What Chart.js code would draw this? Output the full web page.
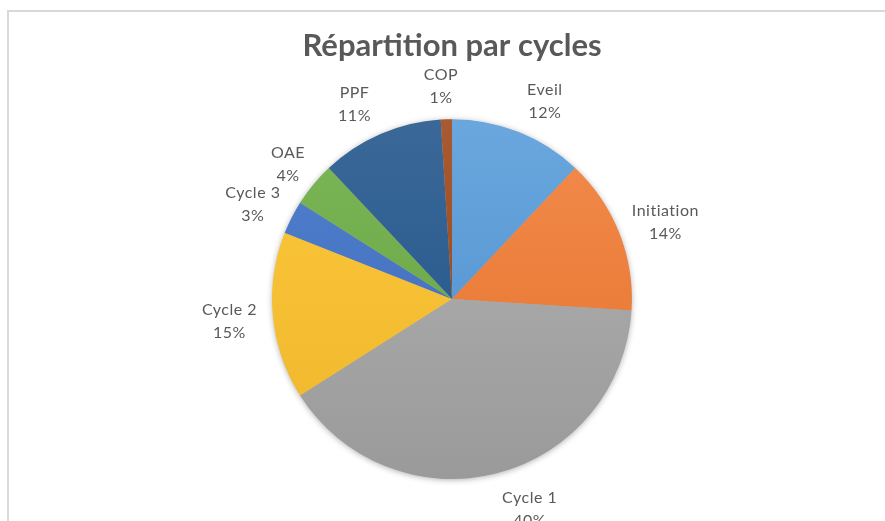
<!DOCTYPE html>
<html>
<head>
<meta charset="utf-8">
<title>Répartition par cycles</title>
<script src="https://cdn.jsdelivr.net/npm/chart.js"></script>
<style>
  html, body { margin: 0; padding: 0; background: #fff; }
  #wrap { position: relative; width: 885px; height: 521px; overflow: hidden; }
  #frame { position: absolute; left: 7px; top: 10px; right: -5px; bottom: -5px;
           border-left: 2px solid #d9d9d9; border-top: 2px solid #d9d9d9; }
  canvas { position: absolute; left: 0; top: 0; }
</style>
</head>
<body>
<div id="wrap">
  <div id="frame"></div>
  <canvas id="chart" width="885" height="521"></canvas>
</div>
<script>
// Données
const categories = ["Eveil", "Initiation", "Cycle 1", "Cycle 2", "Cycle 3", "OAE", "PPF", "COP"];
const valeurs = [12, 14, 40, 15, 3, 4, 11, 1];
// couleurs haut / bas (dégradé façon Excel)
const couleursHaut = ["#6aa7de", "#f28c4c", "#b3b3b3", "#fdc83e", "#5181cf", "#7bb658", "#3a6898", "#a85a30"];
const couleursBas  = ["#4b8ccb", "#e6702b", "#9a9a9a", "#eeb62a", "#3c68b8", "#65a03e", "#1f5389", "#97400e"];

const degrade = (ctx) => {
  const chart = ctx.chart;
  const area = chart.chartArea;
  const i = ctx.dataIndex;
  if (!area) return couleursBas[i];
  const g = chart.ctx.createLinearGradient(0, area.top, 0, area.bottom);
  g.addColorStop(0, couleursHaut[i]);
  g.addColorStop(1, couleursBas[i]);
  return g;
};

// ombre sous le camembert
const ombre = {
  id: "ombre",
  beforeDatasetsDraw(chart) {
    const arc = chart.getDatasetMeta(0).data[0];
    if (!arc) return;
    const { x, y, outerRadius } = arc.getProps(["x", "y", "outerRadius"], true);
    const c = chart.ctx;
    c.save();
    c.shadowColor = "rgba(0,0,0,0.35)";
    c.shadowBlur = 6;
    c.shadowOffsetY = 1;
    c.fillStyle = "#aaa";
    c.beginPath();
    c.arc(x, y, outerRadius - 0.5, 0, Math.PI * 2);
    c.fill();
    c.restore();
  }
};

// étiquettes à l'extérieur (boîte poussée vers l'extérieur selon sa taille)
const etiquettes = {
  id: "etiquettes",
  afterDatasetsDraw(chart) {
    const c = chart.ctx;
    const meta = chart.getDatasetMeta(0);
    c.save();
    c.fillStyle = "#595959";
    c.font = "16px Lato";
    if ("letterSpacing" in c) c.letterSpacing = "0.5px";
    c.textAlign = "center";
    c.textBaseline = "middle";
    meta.data.forEach((arc, i) => {
      const p = arc.getProps(["x", "y", "startAngle", "endAngle", "outerRadius"], true);
      const mid = (p.startAngle + p.endAngle) / 2;
      const ux = Math.cos(mid), uy = Math.sin(mid);
      const pct = valeurs[i] + "%";
      const w = Math.max(c.measureText(categories[i]).width, c.measureText(pct).width);
      const d = p.outerRadius + 12;
      let lx = p.x + ux * d + ux * (w / 2 + 4);
      const ly = p.y + uy * d + uy * 23 + 2;
      // en haut / en bas : décalage latéral comme Excel
      if (Math.abs(uy) > 0.85) {
        lx += Math.sign(ux) * Math.min(1, Math.abs(ux) * 10) * 0.8 * w / 2;
      }
      c.fillText(categories[i], lx, ly - 11);
      c.fillText(pct, lx, ly + 12);
    });
    c.restore();
  }
};

new Chart(document.getElementById("chart"), {
  type: "pie",
  data: {
    labels: categories,
    datasets: [{
      data: valeurs,
      backgroundColor: degrade,
      borderWidth: 0
    }]
  },
  options: {
    responsive: false,
    animation: false,
    layout: { padding: { top: 10, left: 272, right: 253, bottom: 42 } },
    plugins: {
      legend: { display: false },
      tooltip: { enabled: false },
      title: {
        display: true,
        text: "Répartition par cycles",
        color: "#595959",
        font: { family: "Lato", size: 31, weight: "bold" },
        padding: { top: 17, bottom: 55 }
      }
    }
  },
  plugins: [ombre, etiquettes]
});
</script>
</body>
</html>
